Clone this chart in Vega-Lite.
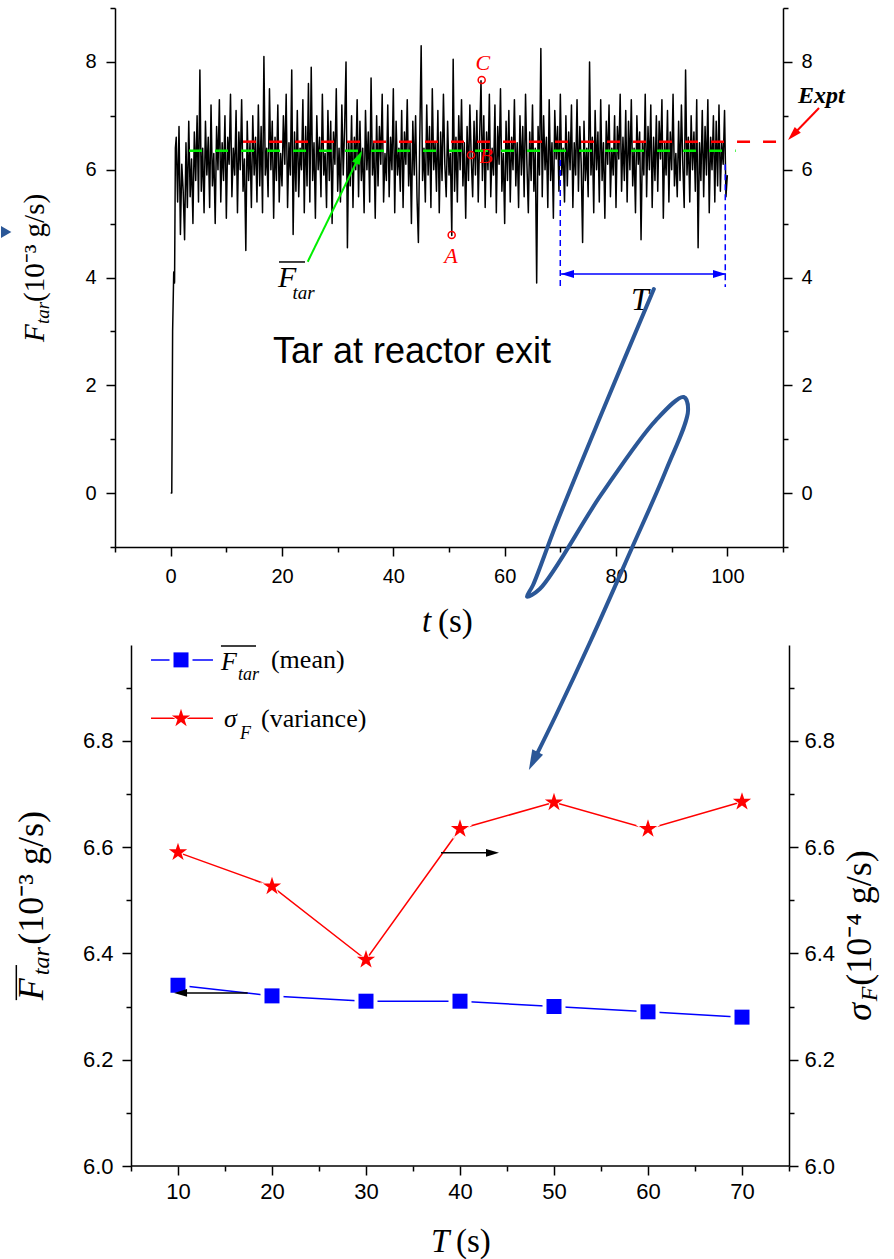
{
"$schema": "https://vega.github.io/schema/vega-lite/v6.json",
"background": "white",
"padding": {"left": 0, "top": 7, "right": 0, "bottom": 0},
"bounds": "flush",
"spacing": 98,
"config": {"view": {"stroke": null}, "axis": {"grid": false, "domainColor": "black", "domainWidth": 1.5, "tickColor": "black", "tickWidth": 1.5, "labelColor": "black", "labelFont": "Liberation Sans", "labelFlush": false, "labelOverlap": false}},
"datasets": {
"signal": [
{"t":0,"f":0},{"t":0.2,"f":0},{"t":0.35,"f":3.0},{"t":0.55,"f":4.1},{"t":0.7,"f":3.9},{"t":0.85,"f":6.4},
{"t":1,"f":6.6},{"t":1.25,"f":5.4},{"t":1.5,"f":6.8},{"t":1.75,"f":4.8},{"t":2,"f":6.1},{"t":2.25,"f":5.6},{"t":2.5,"f":4.7},{"t":2.75,"f":6.5},{"t":3,"f":5.3},{"t":3.25,"f":6.9},{"t":3.5,"f":5.5},{"t":3.75,"f":6.2},{"t":4,"f":5.0},{"t":4.25,"f":6.7},{"t":4.5,"f":5.8},{"t":4.75,"f":7.0},{"t":5,"f":5.4},{"t":5.25,"f":7.85},{"t":5.5,"f":5.6},{"t":5.75,"f":6.4},
{"t":6,"f":5.2},{"t":6.25,"f":6.9},{"t":6.5,"f":5.9},{"t":6.75,"f":6.6},{"t":7,"f":5.3},{"t":7.25,"f":7.2},{"t":7.5,"f":5.7},{"t":7.75,"f":6.3},{"t":8,"f":5.0},{"t":8.25,"f":6.8},{"t":8.5,"f":6.0},{"t":8.75,"f":7.3},{"t":9,"f":5.4},{"t":9.25,"f":6.5},{"t":9.5,"f":5.8},{"t":9.75,"f":7.0},{"t":10,"f":5.1},{"t":10.25,"f":6.6},{"t":10.5,"f":6.1},{"t":10.75,"f":7.4},
{"t":11,"f":5.5},{"t":11.25,"f":6.4},{"t":11.5,"f":5.9},{"t":11.75,"f":7.1},{"t":12,"f":5.2},{"t":12.25,"f":6.7},{"t":12.5,"f":6.0},{"t":12.75,"f":7.3},{"t":13,"f":5.6},{"t":13.25,"f":6.2},{"t":13.5,"f":4.5},{"t":13.75,"f":6.9},{"t":14,"f":5.8},{"t":14.25,"f":6.5},{"t":14.5,"f":5.3},{"t":14.75,"f":7.0},{"t":15,"f":5.9},{"t":15.25,"f":6.6},{"t":15.5,"f":5.4},{"t":15.75,"f":7.2},
{"t":16,"f":5.7},{"t":16.25,"f":6.8},{"t":16.5,"f":5.2},{"t":16.75,"f":8.1},{"t":17,"f":5.9},{"t":17.25,"f":6.4},{"t":17.5,"f":5.5},{"t":17.75,"f":7.5},{"t":18,"f":6.0},{"t":18.25,"f":6.9},{"t":18.5,"f":5.1},{"t":18.75,"f":6.6},{"t":19,"f":5.8},{"t":19.25,"f":7.2},{"t":19.5,"f":5.4},{"t":19.75,"f":6.3},{"t":20,"f":5.7},{"t":20.25,"f":7.0},{"t":20.5,"f":6.1},{"t":20.75,"f":7.4},
{"t":21,"f":5.3},{"t":21.25,"f":6.5},{"t":21.5,"f":5.9},{"t":21.75,"f":7.85},{"t":22,"f":4.8},{"t":22.25,"f":6.7},{"t":22.5,"f":5.6},{"t":22.75,"f":7.1},{"t":23,"f":5.5},{"t":23.25,"f":6.4},{"t":23.5,"f":6.0},{"t":23.75,"f":7.3},{"t":24,"f":5.2},{"t":24.25,"f":6.8},{"t":24.5,"f":5.7},{"t":24.75,"f":7.6},{"t":25,"f":5.4},{"t":25.25,"f":7.9},{"t":25.5,"f":5.8},{"t":25.75,"f":6.5},
{"t":26,"f":5.1},{"t":26.25,"f":7.0},{"t":26.5,"f":6.0},{"t":26.75,"f":6.6},{"t":27,"f":5.5},{"t":27.25,"f":7.4},{"t":27.5,"f":5.9},{"t":27.75,"f":6.3},{"t":28,"f":5.3},{"t":28.25,"f":7.1},{"t":28.5,"f":5.8},{"t":28.75,"f":6.9},{"t":29,"f":5.0},{"t":29.25,"f":6.7},{"t":29.5,"f":6.1},{"t":29.75,"f":7.5},{"t":30,"f":5.6},{"t":30.25,"f":6.4},{"t":30.5,"f":5.4},{"t":30.75,"f":7.2},
{"t":31,"f":5.9},{"t":31.25,"f":6.8},{"t":31.5,"f":8.0},{"t":31.75,"f":4.55},{"t":32,"f":6.5},{"t":32.25,"f":5.7},{"t":32.5,"f":7.0},{"t":32.75,"f":5.3},{"t":33,"f":6.6},{"t":33.25,"f":6.0},{"t":33.5,"f":7.3},{"t":33.75,"f":5.5},{"t":34,"f":6.9},{"t":34.25,"f":5.8},{"t":34.5,"f":6.4},{"t":34.75,"f":5.2},{"t":35,"f":7.1},{"t":35.25,"f":6.0},{"t":35.5,"f":6.7},{"t":35.75,"f":5.4},
{"t":36,"f":7.7},{"t":36.25,"f":5.9},{"t":36.5,"f":6.5},{"t":36.75,"f":5.1},{"t":37,"f":7.0},{"t":37.25,"f":5.7},{"t":37.5,"f":6.8},{"t":37.75,"f":6.1},{"t":38,"f":7.4},{"t":38.25,"f":5.4},{"t":38.5,"f":6.3},{"t":38.75,"f":5.8},{"t":39,"f":7.2},{"t":39.25,"f":5.5},{"t":39.5,"f":6.6},{"t":39.75,"f":6.0},{"t":40,"f":7.5},{"t":40.25,"f":5.2},{"t":40.5,"f":6.9},{"t":40.75,"f":5.9},
{"t":41,"f":6.4},{"t":41.25,"f":5.6},{"t":41.5,"f":7.1},{"t":41.75,"f":5.3},{"t":42,"f":6.7},{"t":42.25,"f":6.1},{"t":42.5,"f":7.3},{"t":42.75,"f":5.7},{"t":43,"f":6.5},{"t":43.25,"f":5.0},{"t":43.5,"f":6.9},{"t":43.75,"f":5.9},{"t":44,"f":7.0},{"t":44.25,"f":5.5},{"t":44.5,"f":4.65},{"t":44.75,"f":6.6},{"t":45,"f":8.3},{"t":45.25,"f":5.8},{"t":45.5,"f":6.4},{"t":45.75,"f":5.4},
{"t":46,"f":7.2},{"t":46.25,"f":5.9},{"t":46.5,"f":6.8},{"t":46.75,"f":5.3},{"t":47,"f":7.5},{"t":47.25,"f":6.0},{"t":47.5,"f":6.5},{"t":47.75,"f":5.6},{"t":48,"f":7.1},{"t":48.25,"f":5.2},{"t":48.5,"f":6.7},{"t":48.75,"f":5.8},{"t":49,"f":7.4},{"t":49.25,"f":6.1},{"t":49.5,"f":5.5},{"t":49.75,"f":6.9},{"t":50,"f":5.9},{"t":50.25,"f":6.3},{"t":50.5,"f":4.78},{"t":50.75,"f":8.05},
{"t":51,"f":5.6},{"t":51.25,"f":6.6},{"t":51.5,"f":5.4},{"t":51.75,"f":7.0},{"t":52,"f":6.0},{"t":52.25,"f":7.3},{"t":52.5,"f":5.7},{"t":52.75,"f":6.5},{"t":53,"f":5.1},{"t":53.25,"f":6.8},{"t":53.5,"f":5.8},{"t":53.75,"f":7.2},{"t":54,"f":6.2},{"t":54.25,"f":5.5},{"t":54.5,"f":6.9},{"t":54.75,"f":5.9},{"t":55,"f":7.1},{"t":55.25,"f":5.4},{"t":55.5,"f":6.6},{"t":55.75,"f":7.65},
{"t":56,"f":5.8},{"t":56.25,"f":7.0},{"t":56.5,"f":5.3},{"t":56.75,"f":6.7},{"t":57,"f":6.0},{"t":57.25,"f":7.4},{"t":57.5,"f":5.5},{"t":57.75,"f":6.4},{"t":58,"f":5.9},{"t":58.25,"f":7.2},{"t":58.5,"f":5.2},{"t":58.75,"f":6.8},{"t":59,"f":6.1},{"t":59.25,"f":7.5},{"t":59.5,"f":5.6},{"t":59.75,"f":6.3},{"t":60,"f":5.0},{"t":60.25,"f":6.9},{"t":60.5,"f":5.8},{"t":60.75,"f":7.1},
{"t":61,"f":5.4},{"t":61.25,"f":6.6},{"t":61.5,"f":6.0},{"t":61.75,"f":7.3},{"t":62,"f":5.7},{"t":62.25,"f":6.5},{"t":62.5,"f":5.3},{"t":62.75,"f":7.0},{"t":63,"f":5.9},{"t":63.25,"f":6.8},{"t":63.5,"f":5.5},{"t":63.75,"f":7.4},{"t":64,"f":6.1},{"t":64.25,"f":5.2},{"t":64.5,"f":6.7},{"t":64.75,"f":5.8},{"t":65,"f":7.2},{"t":65.25,"f":5.6},{"t":65.5,"f":6.4},{"t":65.75,"f":3.9},
{"t":66,"f":6.8},{"t":66.25,"f":5.9},{"t":66.5,"f":8.25},{"t":66.75,"f":5.5},{"t":67,"f":7.0},{"t":67.25,"f":6.0},{"t":67.5,"f":6.6},{"t":67.75,"f":5.3},{"t":68,"f":7.3},{"t":68.25,"f":5.8},{"t":68.5,"f":6.5},{"t":68.75,"f":5.1},{"t":69,"f":7.1},{"t":69.25,"f":6.2},{"t":69.5,"f":6.8},{"t":69.75,"f":5.6},{"t":70,"f":7.4},{"t":70.25,"f":5.9},{"t":70.5,"f":6.4},{"t":70.75,"f":5.4},
{"t":71,"f":7.0},{"t":71.25,"f":5.7},{"t":71.5,"f":6.7},{"t":71.75,"f":6.0},{"t":72,"f":7.2},{"t":72.25,"f":5.3},{"t":72.5,"f":6.5},{"t":72.75,"f":5.9},{"t":73,"f":7.3},{"t":73.25,"f":5.6},{"t":73.5,"f":6.8},{"t":73.75,"f":6.1},{"t":74,"f":4.65},{"t":74.25,"f":6.9},{"t":74.5,"f":5.8},{"t":74.75,"f":6.4},{"t":75,"f":5.5},{"t":75.25,"f":8.0},{"t":75.5,"f":5.9},{"t":75.75,"f":6.6},
{"t":76,"f":5.2},{"t":76.25,"f":7.1},{"t":76.5,"f":6.0},{"t":76.75,"f":6.7},{"t":77,"f":5.4},{"t":77.25,"f":7.3},{"t":77.5,"f":5.8},{"t":77.75,"f":6.5},{"t":78,"f":5.1},{"t":78.25,"f":6.9},{"t":78.5,"f":6.1},{"t":78.75,"f":7.2},{"t":79,"f":5.5},{"t":79.25,"f":6.4},{"t":79.5,"f":5.9},{"t":79.75,"f":7.0},{"t":80,"f":5.3},{"t":80.25,"f":6.8},{"t":80.5,"f":6.2},{"t":80.75,"f":7.4},
{"t":81,"f":5.6},{"t":81.25,"f":6.6},{"t":81.5,"f":5.8},{"t":81.75,"f":7.1},{"t":82,"f":5.4},{"t":82.25,"f":6.9},{"t":82.5,"f":6.0},{"t":82.75,"f":7.3},{"t":83,"f":5.7},{"t":83.25,"f":6.4},{"t":83.5,"f":5.2},{"t":83.75,"f":7.0},{"t":84,"f":6.1},{"t":84.25,"f":6.7},{"t":84.5,"f":4.7},{"t":84.75,"f":6.5},{"t":85,"f":5.9},{"t":85.25,"f":7.4},{"t":85.5,"f":5.5},{"t":85.75,"f":6.8},
{"t":86,"f":6.0},{"t":86.25,"f":7.2},{"t":86.5,"f":5.3},{"t":86.75,"f":6.6},{"t":87,"f":5.8},{"t":87.25,"f":7.0},{"t":87.5,"f":5.6},{"t":87.75,"f":6.9},{"t":88,"f":6.2},{"t":88.25,"f":7.3},{"t":88.5,"f":5.1},{"t":88.75,"f":6.5},{"t":89,"f":5.9},{"t":89.25,"f":7.1},{"t":89.5,"f":5.4},{"t":89.75,"f":6.7},{"t":90,"f":6.0},{"t":90.25,"f":7.4},{"t":90.5,"f":5.7},{"t":90.75,"f":6.3},
{"t":91,"f":5.5},{"t":91.25,"f":6.9},{"t":91.5,"f":5.8},{"t":91.75,"f":7.2},{"t":92,"f":6.1},{"t":92.25,"f":5.3},{"t":92.5,"f":7.85},{"t":92.75,"f":5.9},{"t":93,"f":6.6},{"t":93.25,"f":5.4},{"t":93.5,"f":7.0},{"t":93.75,"f":6.0},{"t":94,"f":6.7},{"t":94.25,"f":5.6},{"t":94.5,"f":7.3},{"t":94.75,"f":4.55},{"t":95,"f":6.5},{"t":95.25,"f":5.8},{"t":95.5,"f":7.1},{"t":95.75,"f":5.5},
{"t":96,"f":6.8},{"t":96.25,"f":5.9},{"t":96.5,"f":7.3},{"t":96.75,"f":5.2},{"t":97,"f":6.6},{"t":97.25,"f":6.0},{"t":97.5,"f":7.0},{"t":97.75,"f":5.4},{"t":98,"f":6.9},{"t":98.25,"f":5.7},{"t":98.5,"f":7.2},{"t":98.75,"f":5.6},{"t":99,"f":6.5},{"t":99.25,"f":6.1},{"t":99.5,"f":7.1},{"t":99.75,"f":5.5},{"t":100,"f":5.9}
],
"mean": [{"T":10,"m":6.34},{"T":20,"m":6.32},{"T":30,"m":6.31},{"T":40,"m":6.31},{"T":50,"m":6.30},{"T":60,"m":6.29},{"T":70,"m":6.28}],
"vari": [{"T":10,"v":6.59},{"T":20,"v":6.526},{"T":30,"v":6.388},{"T":40,"v":6.634},{"T":50,"v":6.684},{"T":60,"v":6.634},{"T":70,"v":6.685}]
},
"vconcat": [
{
"width": 668, "height": 539,
"encoding": {
 "x": {"field": "x", "type": "quantitative", "scale": {"domain": [-10, 110], "nice": false, "zero": false}, "axis": null},
 "y": {"field": "y", "type": "quantitative", "scale": {"domain": [-1, 9], "nice": false, "zero": false}, "axis": null}
},
"layer": [
 {"data": {"name": "signal"}, "mark": {"type": "line", "color": "black", "strokeWidth": 1.5, "strokeJoin": "round"},
  "encoding": {
   "x": {"field": "t", "type": "quantitative", "scale": {"domain": [-10, 110], "nice": false, "zero": false},
    "axis": {"orient": "bottom", "title": null, "values": [-10,0,10,20,30,40,50,60,70,80,90,100,110], "labelExpr": "datum.value % 20 === 0 ? datum.label : ''", "tickSize": {"condition": {"test": "datum.value % 20 === 0", "value": 9}, "value": 5}, "labelFontSize": 20, "labelPadding": 10}},
   "y": {"field": "f", "type": "quantitative", "scale": {"domain": [-1, 9], "nice": false, "zero": false},
    "axis": {"orient": "left", "title": null, "values": [-1,0,1,2,3,4,5,6,7,8,9], "labelExpr": "datum.value % 2 === 0 ? datum.label : ''", "tickSize": {"condition": {"test": "datum.value % 2 === 0", "value": 9}, "value": 5}, "labelFontSize": {"condition": {"test": "datum.value % 2 === 0", "value": 20}, "value": 0}, "labelPadding": 10}}
  }},
 {"data": {"values": [{"x": 3.3, "x2": 101.5, "y": 6.35}]}, "mark": {"type": "rule", "color": "#00ee00", "strokeWidth": 2.5, "strokeDash": [13, 13]},
  "encoding": {"x2": {"field": "x2"},
   "y": {"field": "y", "type": "quantitative", "scale": {"domain": [-1, 9], "nice": false, "zero": false},
    "axis": {"orient": "right", "title": null, "values": [-1,0,1,2,3,4,5,6,7,8,9], "labelExpr": "datum.value % 2 === 0 ? datum.label : ''", "tickSize": {"condition": {"test": "datum.value % 2 === 0", "value": 9}, "value": 5}, "labelFontSize": {"condition": {"test": "datum.value % 2 === 0", "value": 20}, "value": 0}, "labelPadding": 9}}}},
 {"data": {"values": [{"x": 13, "x2": 110.9, "y": 6.52}]}, "mark": {"type": "rule", "color": "#ff0000", "strokeWidth": 2.5, "strokeDash": [13, 13]}, "encoding": {"x2": {"field": "x2"}}},
 {"data": {"values": [{"x": 69.99, "y": 6.18, "y2": 3.824}, {"x": 99.63, "y": 6.1, "y2": 3.824}]}, "mark": {"type": "rule", "color": "#0000ff", "strokeWidth": 1.5, "strokeDash": [6, 4]}, "encoding": {"y2": {"field": "y2"}}},
 {"data": {"values": [{"x": 70.13, "x2": 99.77, "y": 4.065}]}, "mark": {"type": "rule", "color": "#0000ff", "strokeWidth": 1.5}, "encoding": {"x2": {"field": "x2"}}},
 {"data": {"values": [{"x": 71.29, "y": 4.065}]}, "mark": {"type": "point", "shape": "M0,-1L0.6,1L-0.6,1Z", "size": 169, "angle": 270, "filled": true, "color": "#0000ff", "opacity": 1}},
 {"data": {"values": [{"x": 98.59, "y": 4.065}]}, "mark": {"type": "point", "shape": "M0,-1L0.6,1L-0.6,1Z", "size": 169, "angle": 90, "filled": true, "color": "#0000ff", "opacity": 1}},
 {"data": {"values": [{"x": 50.48, "y": 4.788}, {"x": 53.95, "y": 6.273}, {"x": 55.87, "y": 7.664}]}, "mark": {"type": "point", "shape": "circle", "size": 50, "filled": false, "color": "#ff0000", "strokeWidth": 1.5, "opacity": 1}},
 {"data": {"values": [{"x": 50.36, "y": 4.27, "label": "A"}, {"x": 56.64, "y": 6.124, "label": "B"}, {"x": 56.1, "y": 7.85, "label": "C"}]}, "mark": {"type": "text", "font": "Liberation Serif", "fontStyle": "italic", "fontSize": 22, "color": "#ff0000", "align": "center", "baseline": "alphabetic"}, "encoding": {"text": {"field": "label"}}},
 {"data": {"values": [{"x": 24.62, "y": 4.293, "x2": 33.82, "y2": 6.236}]}, "mark": {"type": "rule", "color": "#00ee00", "strokeWidth": 2}, "encoding": {"x2": {"field": "x2"}, "y2": {"field": "y2"}}},
 {"data": {"values": [{"x": 33.82, "y": 6.236}]}, "mark": {"type": "point", "shape": "M0,-1L0.6,1L-0.6,1Z", "size": 196, "angle": 26, "filled": true, "color": "#00ee00", "opacity": 1}},
 {"data": {"values": [{"x": 19.28, "y": 3.824, "label": "F"}]}, "mark": {"type": "text", "font": "Liberation Serif", "fontStyle": "italic", "fontSize": 30, "color": "black", "align": "left", "baseline": "alphabetic"}, "encoding": {"text": {"field": "label"}}},
 {"data": {"values": [{"x": 21.9, "y": 3.61, "label": "tar"}]}, "mark": {"type": "text", "font": "Liberation Serif", "fontStyle": "italic", "fontSize": 19, "color": "black", "align": "left", "baseline": "alphabetic"}, "encoding": {"text": {"field": "label"}}},
 {"data": {"values": [{"x": 19.46, "x2": 24.13, "y": 4.288}]}, "mark": {"type": "rule", "color": "black", "strokeWidth": 1.5}, "encoding": {"x2": {"field": "x2"}}},
 {"data": {"values": [{"x": 112.7, "y": 7.237, "label": "Expt"}]}, "mark": {"type": "text", "font": "Liberation Serif", "fontStyle": "italic", "fontWeight": "bold", "fontSize": 24, "color": "black", "align": "left", "baseline": "alphabetic"}, "encoding": {"text": {"field": "label"}}},
 {"data": {"values": [{"x": 116.47, "y": 7.145, "x2": 111.78, "y2": 6.644}]}, "mark": {"type": "rule", "color": "#ff0000", "strokeWidth": 2}, "encoding": {"x2": {"field": "x2"}, "y2": {"field": "y2"}}},
 {"data": {"values": [{"x": 111.78, "y": 6.644}]}, "mark": {"type": "point", "shape": "M0,-1L0.6,1L-0.6,1Z", "size": 196, "angle": 224, "filled": true, "color": "#ff0000", "opacity": 1}},
 {"data": {"values": [{"x": 82.7, "y": 3.397, "label": "T"}]}, "mark": {"type": "text", "font": "Liberation Serif", "fontStyle": "italic", "fontSize": 32, "color": "black", "align": "left", "baseline": "alphabetic"}, "encoding": {"text": {"field": "label"}}},
 {"data": {"values": [{"x": 43.35, "y": 2.414, "label": "Tar at reactor exit"}]}, "mark": {"type": "text", "font": "Liberation Sans", "fontSize": 36, "color": "black", "align": "center", "baseline": "alphabetic"}, "encoding": {"text": {"field": "label"}}},
 {"data": {"values": [{"x": 45.15, "y": -2.577, "label": "t"}]}, "mark": {"type": "text", "font": "Liberation Serif", "fontStyle": "italic", "fontSize": 33, "color": "black", "align": "left", "baseline": "alphabetic"}, "encoding": {"text": {"field": "label"}}},
 {"data": {"values": [{"x": 48.02, "y": -2.577, "label": "(s)"}]}, "mark": {"type": "text", "font": "Liberation Serif", "fontSize": 33, "color": "black", "align": "left", "baseline": "alphabetic"}, "encoding": {"text": {"field": "label"}}},
 {"data": {"values": [{"x": -22.76, "y": 2.803, "label": "F"}]}, "mark": {"type": "text", "angle": 270, "font": "Liberation Serif", "fontStyle": "italic", "fontSize": 29, "color": "black", "align": "left", "baseline": "alphabetic"}, "encoding": {"text": {"field": "label"}}},
 {"data": {"values": [{"x": -21.86, "y": 3.137, "label": "tar"}]}, "mark": {"type": "text", "angle": 270, "font": "Liberation Serif", "fontStyle": "italic", "fontSize": 19, "color": "black", "align": "left", "baseline": "alphabetic"}, "encoding": {"text": {"field": "label"}}},
 {"data": {"values": [{"x": -22.76, "y": 3.545, "label": "(10⁻³ g/s)"}]}, "mark": {"type": "text", "angle": 270, "font": "Liberation Serif", "fontSize": 29, "color": "black", "align": "left", "baseline": "alphabetic"}, "encoding": {"text": {"field": "label"}}},
 {"data": {"values": [
   {"i":0,"x":86.8,"y":3.787},{"i":1,"x":77.3,"y":1.449},{"i":2,"x":69.2,"y":-0.592},{"i":3,"x":65.1,"y":-1.705},{"i":4,"x":64.0,"y":-1.92},{"i":5,"x":66.3,"y":-1.78},{"i":6,"x":77.3,"y":-0.035},{"i":7,"x":87.19,"y":1.356},{"i":8,"x":92.16,"y":1.783},{"i":9,"x":92.95,"y":1.542},{"i":10,"x":89.0,"y":0.428},{"i":11,"x":82.7,"y":-1.056},{"i":12,"x":75.52,"y":-2.725},{"i":13,"x":69.23,"y":-4.117},{"i":14,"x":65.27,"y":-4.951}]},
  "mark": {"type": "line", "color": "#2b5797", "strokeWidth": 4, "interpolate": "catmull-rom", "strokeCap": "round"},
  "encoding": {"order": {"field": "i", "type": "quantitative"}}},
 {"data": {"values": [{"x": 65.14, "y": -4.97}]}, "mark": {"type": "point", "shape": "M0,-1L0.6,1L-0.6,1Z", "size": 400, "angle": 206, "filled": true, "color": "#2b5797", "opacity": 1}},
 {"data": {"values": [{"x": -29.55, "y": 4.844}]}, "mark": {"type": "point", "shape": "triangle-right", "size": 144, "filled": true, "color": "#2b5797", "opacity": 1}}
],
"resolve": {"axis": {"x": "independent", "y": "independent"}}
},
{
"width": 674, "height": 521,
"encoding": {
 "x": {"field": "x", "type": "quantitative", "scale": {"domain": [3.298, 75], "nice": false, "zero": false}, "axis": null},
 "y": {"field": "y", "type": "quantitative", "scale": {"domain": [6.0, 6.98], "nice": false, "zero": false}, "axis": null}
},
"layer": [
 {"data": {"name": "mean"}, "mark": {"type": "line", "color": "#0000ff", "strokeWidth": 1.5},
  "encoding": {
   "x": {"field": "T", "type": "quantitative", "scale": {"domain": [3.298, 75], "nice": false, "zero": false},
    "axis": {"orient": "bottom", "title": null, "domain": false, "values": [5,10,15,20,25,30,35,40,45,50,55,60,65,70,75], "labelExpr": "datum.value % 10 === 0 ? datum.label : ''", "tickSize": {"condition": {"test": "datum.value % 10 === 0", "value": 9}, "value": 5}, "labelFontSize": 22, "labelPadding": 6}},
   "y": {"field": "m", "type": "quantitative", "scale": {"domain": [6.0, 6.98], "nice": false, "zero": false},
    "axis": {"orient": "left", "title": null, "offset": -16, "values": [6.0,6.1,6.2,6.3,6.4,6.5,6.6,6.7,6.8,6.9], "format": ".1f", "labelExpr": "round(datum.value*10) % 2 === 0 ? datum.label : ''", "tickSize": {"condition": {"test": "round(datum.value*10) % 2 === 0", "value": 9}, "value": 5}, "labelFontSize": 22, "labelPadding": 9}}
  }},
 {"data": {"name": "vari"}, "mark": {"type": "line", "color": "#ff0000", "strokeWidth": 1.5},
  "encoding": {
   "x": {"field": "T", "type": "quantitative", "scale": {"domain": [3.298, 75], "nice": false, "zero": false}, "axis": null},
   "y": {"field": "v", "type": "quantitative", "scale": {"domain": [6.0, 6.98], "nice": false, "zero": false},
    "axis": {"orient": "right", "title": null, "values": [6.0,6.1,6.2,6.3,6.4,6.5,6.6,6.7,6.8,6.9], "format": ".1f", "labelExpr": "round(datum.value*10) % 2 === 0 ? datum.label : ''", "tickSize": {"condition": {"test": "round(datum.value*10) % 2 === 0", "value": 9}, "value": 5}, "labelFontSize": 22, "labelPadding": 6}}
  }},
 {"data": {"values": [{"x": 5, "x2": 75, "y": 6.0}]}, "mark": {"type": "rule", "color": "black", "strokeWidth": 1.5}, "encoding": {"x2": {"field": "x2"}}},
 {"data": {"values": [{"x": 7.13, "x2": 13.72, "y": 6.952}]}, "mark": {"type": "rule", "color": "#0000ff", "strokeWidth": 1.5}, "encoding": {"x2": {"field": "x2"}}},
 {"data": {"values": [{"x": 7.13, "x2": 13.72, "y": 6.842}]}, "mark": {"type": "rule", "color": "#ff0000", "strokeWidth": 1.5}, "encoding": {"x2": {"field": "x2"}}},
 {"data": {"name": "mean"}, "mark": {"type": "point", "shape": "square", "size": 529, "filled": true, "color": "white", "opacity": 1},
  "encoding": {"x": {"field": "T", "type": "quantitative", "scale": {"domain": [3.298, 75], "nice": false, "zero": false}, "axis": null}, "y": {"field": "m", "type": "quantitative", "scale": {"domain": [6.0, 6.98], "nice": false, "zero": false}, "axis": null}}},
 {"data": {"name": "mean"}, "mark": {"type": "point", "shape": "square", "size": 225, "filled": true, "color": "#0000ff", "opacity": 1},
  "encoding": {"x": {"field": "T", "type": "quantitative", "scale": {"domain": [3.298, 75], "nice": false, "zero": false}, "axis": null}, "y": {"field": "m", "type": "quantitative", "scale": {"domain": [6.0, 6.98], "nice": false, "zero": false}, "axis": null}}},
 {"data": {"name": "vari"}, "mark": {"type": "point", "shape": "M0,-1L0.2245,-0.309L0.951,-0.309L0.363,0.118L0.588,0.809L0,0.382L-0.588,0.809L-0.363,0.118L-0.951,-0.309L-0.2245,-0.309Z", "size": 650, "filled": true, "color": "white", "opacity": 1},
  "encoding": {"x": {"field": "T", "type": "quantitative", "scale": {"domain": [3.298, 75], "nice": false, "zero": false}, "axis": null}, "y": {"field": "v", "type": "quantitative", "scale": {"domain": [6.0, 6.98], "nice": false, "zero": false}, "axis": null}}},
 {"data": {"name": "vari"}, "mark": {"type": "point", "shape": "M0,-1L0.2245,-0.309L0.951,-0.309L0.363,0.118L0.588,0.809L0,0.382L-0.588,0.809L-0.363,0.118L-0.951,-0.309L-0.2245,-0.309Z", "size": 370, "filled": true, "color": "#ff0000", "opacity": 1},
  "encoding": {"x": {"field": "T", "type": "quantitative", "scale": {"domain": [3.298, 75], "nice": false, "zero": false}, "axis": null}, "y": {"field": "v", "type": "quantitative", "scale": {"domain": [6.0, 6.98], "nice": false, "zero": false}, "axis": null}}},
 {"data": {"values": [{"x": 10.32, "y": 6.952}]}, "mark": {"type": "point", "shape": "square", "size": 529, "filled": true, "color": "white", "opacity": 1}},
 {"data": {"values": [{"x": 10.32, "y": 6.952}]}, "mark": {"type": "point", "shape": "square", "size": 225, "filled": true, "color": "#0000ff", "opacity": 1}},
 {"data": {"values": [{"x": 10.32, "y": 6.842}]}, "mark": {"type": "point", "shape": "M0,-1L0.2245,-0.309L0.951,-0.309L0.363,0.118L0.588,0.809L0,0.382L-0.588,0.809L-0.363,0.118L-0.951,-0.309L-0.2245,-0.309Z", "size": 650, "filled": true, "color": "white", "opacity": 1}},
 {"data": {"values": [{"x": 10.32, "y": 6.842}]}, "mark": {"type": "point", "shape": "M0,-1L0.2245,-0.309L0.951,-0.309L0.363,0.118L0.588,0.809L0,0.382L-0.588,0.809L-0.363,0.118L-0.951,-0.309L-0.2245,-0.309Z", "size": 370, "filled": true, "color": "#ff0000", "opacity": 1}},
 {"data": {"values": [{"x": 37.98, "x2": 43.46, "y": 6.589}, {"x": 17.41, "x2": 10.27, "y": 6.3256}]}, "mark": {"type": "rule", "color": "black", "strokeWidth": 1.5}, "encoding": {"x2": {"field": "x2"}}},
 {"data": {"values": [{"x": 43.46, "y": 6.589}]}, "mark": {"type": "point", "shape": "M0,-1L0.6,1L-0.6,1Z", "size": 169, "angle": 90, "filled": true, "color": "black", "opacity": 1}},
 {"data": {"values": [{"x": 10.27, "y": 6.3256}]}, "mark": {"type": "point", "shape": "M0,-1L0.6,1L-0.6,1Z", "size": 169, "angle": 270, "filled": true, "color": "black", "opacity": 1}},
 {"data": {"values": [{"x": 14.57, "y": 6.933, "label": "F"}, {"x": 14.89, "y": 6.826, "label": "σ"}]}, "mark": {"type": "text", "font": "Liberation Serif", "fontStyle": "italic", "fontSize": 26, "color": "black", "align": "left", "baseline": "alphabetic"}, "encoding": {"text": {"field": "label"}}},
 {"data": {"values": [{"x": 16.38, "y": 6.914, "label": "tar"}, {"x": 16.6, "y": 6.803, "label": "F"}]}, "mark": {"type": "text", "font": "Liberation Serif", "fontStyle": "italic", "fontSize": 18, "color": "black", "align": "left", "baseline": "alphabetic"}, "encoding": {"text": {"field": "label"}}},
 {"data": {"values": [{"x": 19.89, "y": 6.937, "label": "(mean)"}, {"x": 18.83, "y": 6.826, "label": "(variance)"}]}, "mark": {"type": "text", "font": "Liberation Serif", "fontSize": 26, "color": "black", "align": "left", "baseline": "alphabetic"}, "encoding": {"text": {"field": "label"}}},
 {"data": {"values": [{"x": 14.57, "x2": 18.3, "y": 6.978}]}, "mark": {"type": "rule", "color": "black", "strokeWidth": 1.5}, "encoding": {"x2": {"field": "x2"}}},
 {"data": {"values": [{"x": 36.91, "y": 5.838, "label": "T"}]}, "mark": {"type": "text", "font": "Liberation Serif", "fontStyle": "italic", "fontSize": 33, "color": "black", "align": "left", "baseline": "alphabetic"}, "encoding": {"text": {"field": "label"}}},
 {"data": {"values": [{"x": 39.57, "y": 5.838, "label": "(s)"}]}, "mark": {"type": "text", "font": "Liberation Serif", "fontSize": 33, "color": "black", "align": "left", "baseline": "alphabetic"}, "encoding": {"text": {"field": "label"}}},
 {"data": {"values": [{"x": -4.36, "y": 6.312, "label": "F"}, {"x": 83.72, "y": 6.273, "label": "σ"}]}, "mark": {"type": "text", "angle": 270, "font": "Liberation Serif", "fontStyle": "italic", "fontSize": 36, "color": "black", "align": "left", "baseline": "alphabetic"}, "encoding": {"text": {"field": "label"}}},
 {"data": {"values": [{"x": -3.72, "y": 6.359, "label": "tar"}, {"x": 84.36, "y": 6.31, "label": "F"}]}, "mark": {"type": "text", "angle": 270, "font": "Liberation Serif", "fontStyle": "italic", "fontSize": 24, "color": "black", "align": "left", "baseline": "alphabetic"}, "encoding": {"text": {"field": "label"}}},
 {"data": {"values": [{"x": -4.36, "y": 6.416, "label": "(10⁻³ g/s)"}, {"x": 83.72, "y": 6.339, "label": "(10⁻⁴ g/s)"}]}, "mark": {"type": "text", "angle": 270, "font": "Liberation Serif", "fontSize": 36, "color": "black", "align": "left", "baseline": "alphabetic"}, "encoding": {"text": {"field": "label"}}},
 {"data": {"values": [{"x": -7.2, "y": 6.312, "y2": 6.378}]}, "mark": {"type": "rule", "color": "black", "strokeWidth": 1.5}, "encoding": {"y2": {"field": "y2"}}}
],
"resolve": {"axis": {"x": "independent", "y": "independent"}}
}
]
}
